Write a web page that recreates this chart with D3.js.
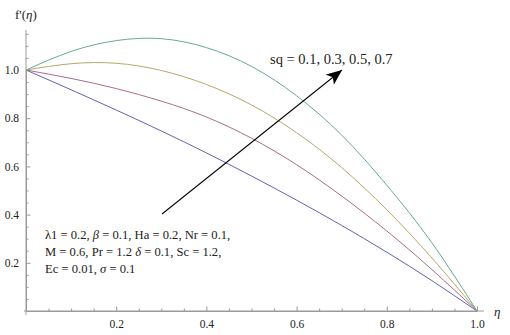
<!DOCTYPE html>
<html>
<head>
<meta charset="utf-8">
<script src="https://cdnjs.cloudflare.com/ajax/libs/d3/7.8.5/d3.min.js"></script>
<style>
  body { margin: 0; background: #fff; }
  text { font-family: "Liberation Serif", "DejaVu Serif", serif; fill: #222; }
</style>
</head>
<body>
<script>
let w = 510;
let h = 335;

// eta values and f'(eta) for sq = 0.1, 0.3, 0.5, 0.7
let eta = [0, 0.1, 0.2, 0.3, 0.4, 0.5, 0.6, 0.7, 0.8, 0.9, 1.0];
let sq01 = [1, 0.918, 0.834, 0.747, 0.656, 0.56, 0.46, 0.355, 0.244, 0.126, 0];
let sq03 = [1, 0.965, 0.923, 0.871, 0.805, 0.717, 0.607, 0.477, 0.332, 0.172, 0];
let sq05 = [1, 1.026, 1.028, 0.998, 0.94, 0.855, 0.74, 0.595, 0.42, 0.22, 0];
let sq07 = [1, 1.077, 1.122, 1.13, 1.093, 1.015, 0.893, 0.73, 0.522, 0.283, 0];
let series = [sq01, sq03, sq05, sq07];
let colors = ["#6363b0", "#ad6b8e", "#b6a96a", "#64ad88"];

let xTicks = [0.2, 0.4, 0.6, 0.8, 1.0];
let yTicks = [0.2, 0.4, 0.6, 0.8, 1.0];

let xScale = d3.scaleLinear().domain([0, 1]).range([26, 477]);
let yScale = d3.scaleLinear().domain([0, 1]).range([311, 70]);

let svg = d3.select("body").append("svg")
  .attr("width", w)
  .attr("height", h);

let minorX = d3.range(1, 20).map(i => i * 0.05).filter(v => Math.abs(v * 5 - Math.round(v * 5)) > 1e-6);
let minorY = d3.range(1, 24).map(i => i * 0.05).filter(v => Math.abs(v * 5 - Math.round(v * 5)) > 1e-6);

// x axis
let xAxis = d3.axisBottom(xScale).tickValues(xTicks).tickSize(-4.5).tickPadding(9).tickFormat(d3.format(".1f"));
let gx = svg.append("g").attr("transform", "translate(0," + yScale(0) + ")").call(xAxis);
svg.append("g").attr("transform", "translate(0," + yScale(0) + ")")
  .call(d3.axisBottom(xScale).tickValues(minorX).tickSize(-2.5).tickFormat(""));
gx.select(".domain").attr("d", "M24,0H484");

// y axis
let yAxis = d3.axisLeft(yScale).tickValues(yTicks).tickSize(-4.5).tickPadding(7).tickFormat(d3.format(".1f"));
let gy = svg.append("g").attr("transform", "translate(" + xScale(0) + ",0)").call(yAxis);
svg.append("g").attr("transform", "translate(" + xScale(0) + ",0)")
  .call(d3.axisLeft(yScale).tickValues(minorY).tickSize(-2.5).tickFormat(""));
gy.select(".domain").attr("d", "M0,30V315");

svg.selectAll(".domain").attr("stroke", "#9a9a9a").attr("stroke-width", 1);
svg.selectAll(".tick line").attr("stroke", "#9a9a9a");
svg.selectAll(".tick text")
  .attr("font-family", "Liberation Serif, serif")
  .style("font-family", "Liberation Serif, serif")
  .style("font-size", "11.5px").attr("fill", "#222");

// curves
let line = d3.line()
  .x((d, i) => xScale(eta[i]))
  .y(d => yScale(d))
  .curve(d3.curveNatural);

svg.append("g").selectAll("path.curve")
  .data(series)
  .enter()
  .append("path")
  .attr("class", "curve")
  .attr("fill", "none")
  .attr("stroke", (d, i) => colors[i])
  .attr("stroke-width", 1)
  .attr("d", line);

// axis labels
let yl = svg.append("text").attr("x", 15).attr("y", 19).style("font-size", "13px");
yl.append("tspan").text("f'(");
yl.append("tspan").style("font-style", "italic").text("η");
yl.append("tspan").text(")");

svg.append("text").attr("x", 494).attr("y", 316).style("font-size", "13px").style("font-style", "italic").text("η");

// arrow
svg.append("defs").append("marker")
  .attr("id", "head")
  .attr("viewBox", "0 0 12 10")
  .attr("refX", 12).attr("refY", 5)
  .attr("markerWidth", 17).attr("markerHeight", 13)
  .attr("markerUnits", "userSpaceOnUse")
  .attr("orient", "auto")
  .append("path").attr("d", "M0,0L12,5L0,10L3,5Z").attr("fill", "#000");

svg.append("line")
  .attr("x1", 162).attr("y1", 214)
  .attr("x2", 342).attr("y2", 70)
  .attr("stroke", "#000").attr("stroke-width", 1.1)
  .attr("marker-end", "url(#head)");

svg.append("text").attr("x", 270).attr("y", 64).style("font-size", "14.5px").text("sq = 0.1, 0.3, 0.5, 0.7");

// parameter note
let note = svg.append("g").style("font-size", "12.6px");
let t1 = note.append("text").attr("x", 45).attr("y", 239);
t1.append("tspan").text("λ1 = 0.2, ");
t1.append("tspan").style("font-style", "italic").text("β");
t1.append("tspan").text(" = 0.1, Ha = 0.2, Nr = 0.1,");
let t2 = note.append("text").attr("x", 45).attr("y", 256);
t2.append("tspan").text("M = 0.6, Pr = 1.2 ");
t2.append("tspan").style("font-style", "italic").text("δ");
t2.append("tspan").text(" = 0.1, Sc = 1.2,");
let t3 = note.append("text").attr("x", 45).attr("y", 273);
t3.append("tspan").text("Ec = 0.01, ");
t3.append("tspan").style("font-style", "italic").text("σ");
t3.append("tspan").text(" = 0.1");
</script>
</body>
</html>
